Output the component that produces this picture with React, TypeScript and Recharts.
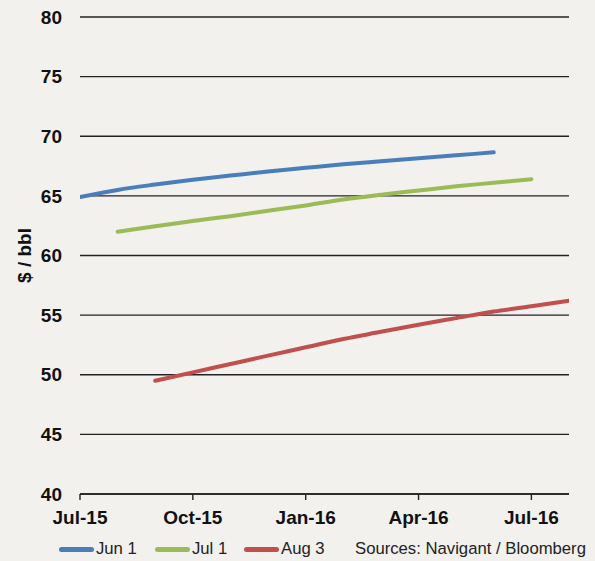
import React from 'react';
import { LineChart, Line, XAxis, YAxis, CartesianGrid } from 'recharts';

const months = ['Jul-15','Aug-15','Sep-15','Oct-15','Nov-15','Dec-15','Jan-16','Feb-16','Mar-16','Apr-16','May-16','Jun-16','Jul-16','Aug-16'];
const jun1 = [64.9, 65.5, 65.95, 66.35, 66.7, 67.05, 67.35, 67.65, 67.9, 68.15, 68.4, 68.65, null, null];
const jul1 = [null, 62.0, 62.45, 62.9, 63.3, 63.75, 64.2, 64.7, 65.1, 65.45, 65.8, 66.1, 66.4, null];
const aug3 = [null, null, 49.5, 50.2, 50.9, 51.6, 52.3, 53.0, 53.6, 54.2, 54.75, 55.3, 55.75, 56.2];
const yTicks = [40, 45, 50, 55, 60, 65, 70, 75, 80];
const xTicks = [0, 3, 6, 9, 12];
const seriesNames = ['Jun 1', 'Jul 1', 'Aug 3'];
const colors = ['#4A7EBB', '#9BBB59', '#C0504D'];
const sourceText = 'Sources: Navigant / Bloomberg';

const data = months.map((m, i) => ({ i, month: m, jun1: jun1[i], jul1: jul1[i], aug3: aug3[i] }));

const FONT = 'Arial, "Liberation Sans", sans-serif';
const legendLefts = [59, 155, 244];

export default function App() {
  return (
    <div style={{ position: 'absolute', left: 0, top: 0, width: 595, height: 561, background: '#F2F1EE', fontFamily: FONT }}>
      <LineChart width={595} height={561} data={data} margin={{ top: 17, right: 26, left: 0, bottom: 27 }}>
        <CartesianGrid vertical={false} stroke="#222" strokeWidth={1.4} />
        <XAxis
          dataKey="i"
          type="number"
          domain={[0, 13]}
          ticks={xTicks}
          tickFormatter={(v: number) => months[v]}
          height={40}
          interval={0}
          stroke="#222"
          strokeWidth={1.4}
          tickSize={6}
          tickMargin={11}
          tick={{ fill: '#111', fontSize: 19, fontWeight: 'bold', fontFamily: FONT }}
          allowDataOverflow
        />
        <YAxis
          domain={[40, 80]}
          ticks={yTicks}
          width={80}
          axisLine={false}
          tickLine={false}
          tickMargin={12}
          tick={{ fill: '#111', fontSize: 19, fontWeight: 'bold', fontFamily: FONT }}
          label={(props: any) => {
            const vb = props.viewBox || { x: 0, y: 17, width: 80, height: 477 };
            const cx = vb.x + 24;
            const cy = vb.y + vb.height / 2;
            return (
              <text x={cx} y={cy} transform={`rotate(-90 ${cx} ${cy})`} textAnchor="middle" dominantBaseline="central" fill="#111" fontSize={19} fontWeight="bold" fontFamily={FONT}>
                $ / bbl
              </text>
            );
          }}
        />
        <Line dataKey="jun1" name={seriesNames[0]} stroke={colors[0]} strokeWidth={4} dot={false} type="monotone" strokeLinecap="round" isAnimationActive={false} />
        <Line dataKey="jul1" name={seriesNames[1]} stroke={colors[1]} strokeWidth={4} dot={false} type="monotone" strokeLinecap="round" isAnimationActive={false} />
        <Line dataKey="aug3" name={seriesNames[2]} stroke={colors[2]} strokeWidth={4} dot={false} type="monotone" strokeLinecap="round" isAnimationActive={false} />
      </LineChart>
      {seriesNames.map((n, k) => (
        <div key={n} style={{ position: 'absolute', left: legendLefts[k], top: 539, height: 20, display: 'flex', alignItems: 'center', fontSize: 16.7, color: '#222', whiteSpace: 'nowrap' }}>
          <span style={{ display: 'inline-block', width: 35, height: 5, borderRadius: 2.5, background: colors[k], marginRight: 2 }} />
          <span>{n}</span>
        </div>
      ))}
      <div style={{ position: 'absolute', left: 355, top: 539, height: 20, display: 'flex', alignItems: 'center', fontSize: 16.7, color: '#222', whiteSpace: 'nowrap' }}>
        {sourceText}
      </div>
    </div>
  );
}
